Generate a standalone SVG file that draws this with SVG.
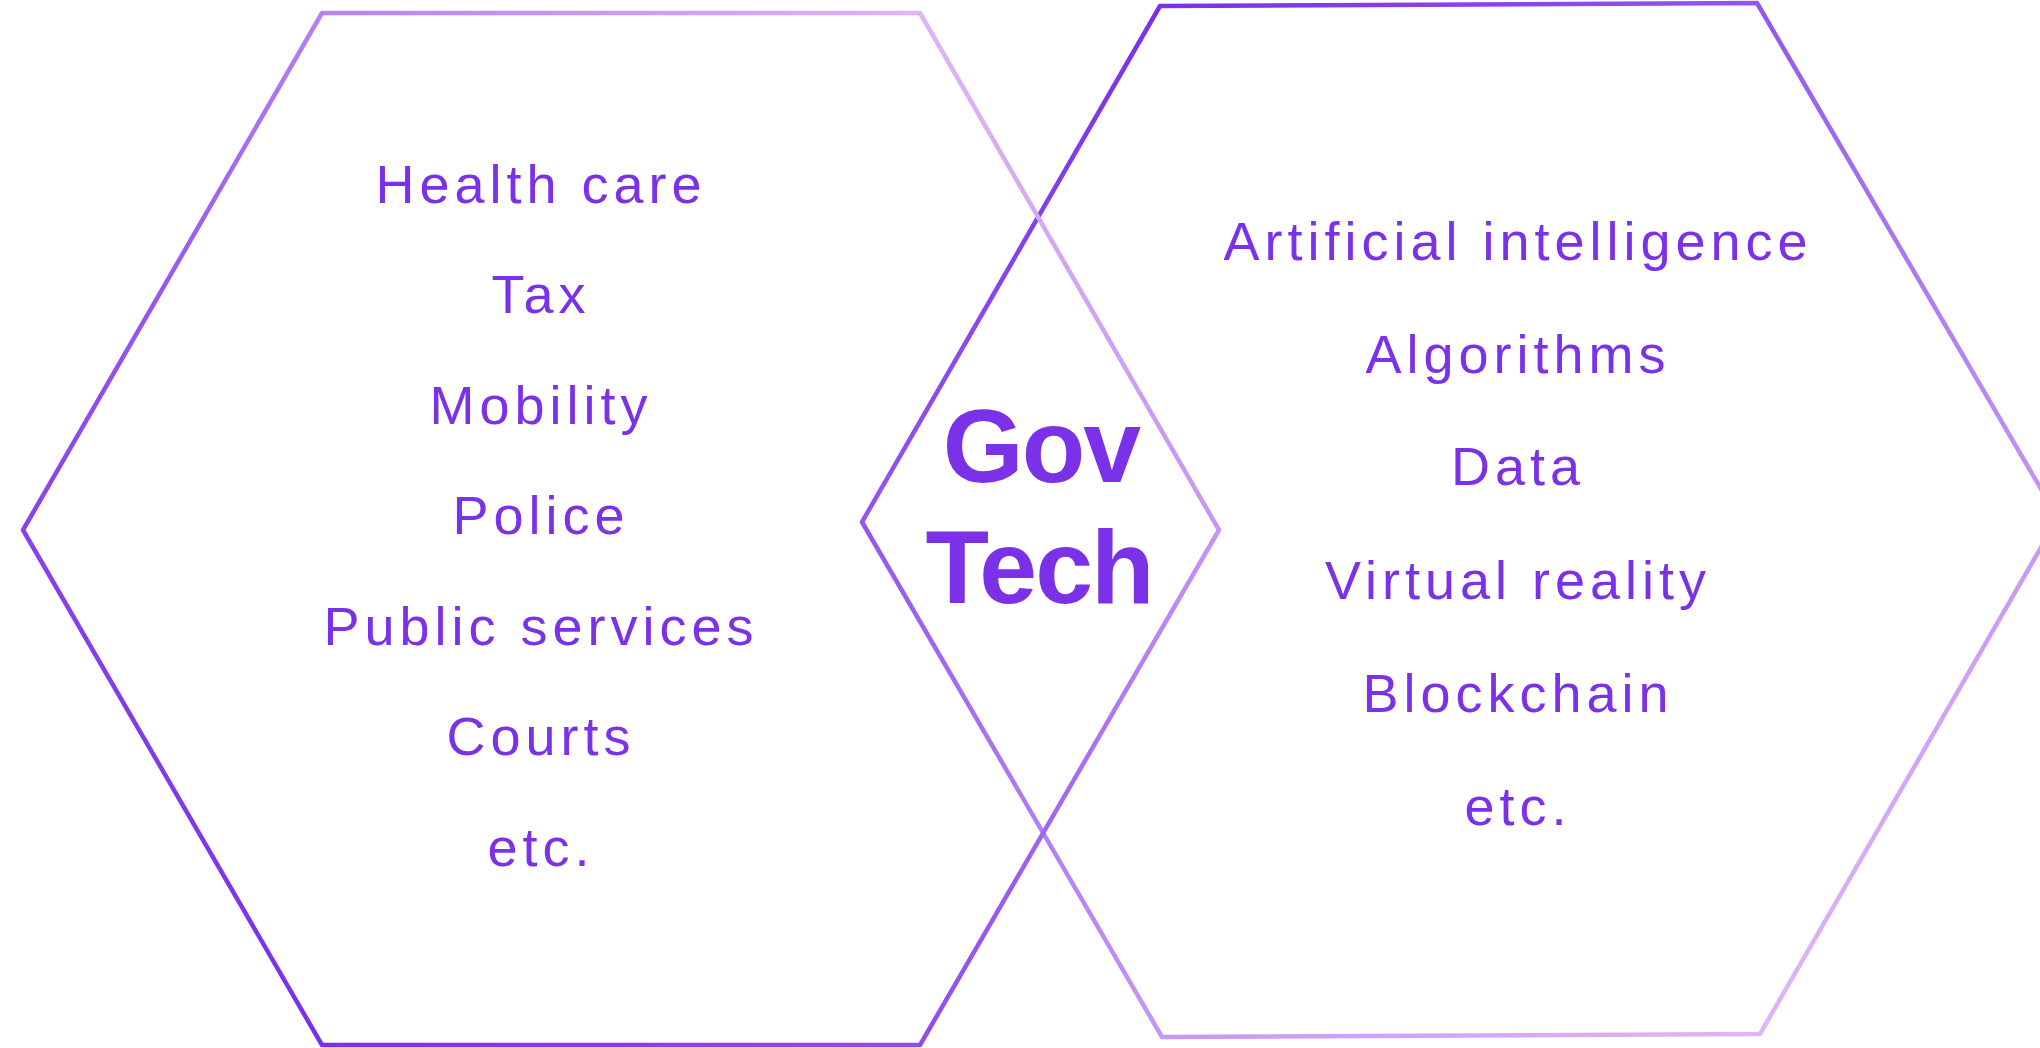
<svg xmlns="http://www.w3.org/2000/svg" width="2040" height="1048" viewBox="0 0 2040 1048">
  <defs>
    <linearGradient id="gLeft" gradientUnits="userSpaceOnUse" x1="250" y1="1000" x2="1000" y2="20">
      <stop offset="0" stop-color="#7a2fe8"/>
      <stop offset="0.45" stop-color="#9c5bee"/>
      <stop offset="1" stop-color="#e2bcf9"/>
    </linearGradient>
    <linearGradient id="gRight" gradientUnits="userSpaceOnUse" x1="1150" y1="0" x2="1750" y2="1040">
      <stop offset="0" stop-color="#7a2fe8"/>
      <stop offset="0.5" stop-color="#ad78f1"/>
      <stop offset="1" stop-color="#dfb6f8"/>
    </linearGradient>
  </defs>
  <style>
    .hex { fill: none; stroke-width: 4.5; stroke-linejoin: round; }
    .item { font-family: "Liberation Sans", Arial, sans-serif; font-size: 54px; letter-spacing: 5px; fill: #7b31e8; text-anchor: middle; }
    .brand { font-family: "Liberation Sans", Arial, sans-serif; font-weight: bold; font-size: 104px; letter-spacing: -2px; fill: #7b31e8; text-anchor: middle; }
  </style>
  <rect width="2040" height="1048" fill="#ffffff"/>

  <g id="connectors"></g>

  <g id="hex-right">
    <polygon class="hex" stroke="url(#gRight)" points="862,522 1160,6 1757,3 2058,518 1760,1034 1162,1037"/>
    <text class="item" x="1518" y="260">Artificial intelligence</text>
    <text class="item" x="1518" y="373">Algorithms</text>
    <text class="item" x="1518" y="485">Data</text>
    <text class="item" x="1518" y="599">Virtual reality</text>
    <text class="item" x="1518" y="712">Blockchain</text>
    <text class="item" x="1518" y="825">etc.</text>
  </g>

  <g id="hex-left">
    <polygon class="hex" stroke="url(#gLeft)" points="23,530 322,13 920,13 1219,530 920,1045 322,1045"/>
    <text class="item" x="541" y="203">Health care</text>
    <text class="item" x="541" y="313">Tax</text>
    <text class="item" x="541" y="424">Mobility</text>
    <text class="item" x="541" y="534">Police</text>
    <text class="item" x="541" y="645">Public services</text>
    <text class="item" x="541" y="755">Courts</text>
    <text class="item" x="541" y="866">etc.</text>
  </g>

  <g id="govtech">
    <text class="brand" x="1041" y="482">Gov</text>
    <text class="brand" x="1039" y="603">Tech</text>
  </g>
</svg>
